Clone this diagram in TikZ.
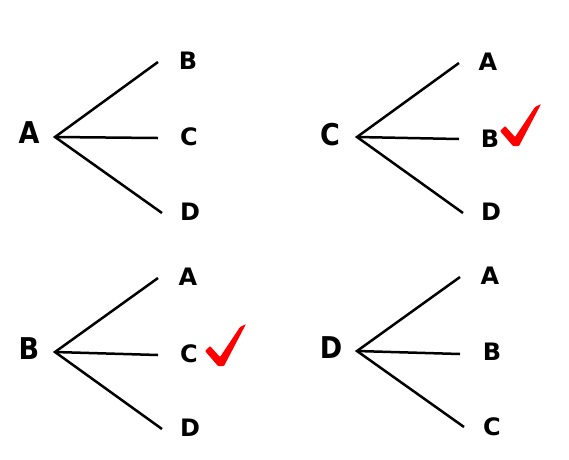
\documentclass[tikz,border=0pt]{standalone}
\usepackage{fontspec}
\setmainfont{DejaVu Sans}
\newfontfamily\rootfont{DejaVu Sans Condensed}
\begin{document}
\begin{tikzpicture}[x=1pt,y=-1pt,
  rootlbl/.style={inner sep=0pt, font=\rootfont\bfseries\fontsize{30}{30}\selectfont},
  leaflbl/.style={inner sep=0pt, font=\bfseries\fontsize{24}{24}\selectfont},
  branch/.style={line width=2.5pt, black},
  tickmark/.pic={\fill[red, rounded corners=0.8pt] (-16,-15) -- (-11,-20) -- (-1,-9) -- (19,-39) -- (25,-42) -- (3,0) -- (-3,0) -- cycle;}
]
\useasboundingbox (0,0) rectangle (569,459);

% Panel A
\node[rootlbl] (rA) at (29,133) {A};
\coordinate (fA) at (55,137);
\coordinate (eAB) at (158,62);
\coordinate (eAC) at (158,138);
\coordinate (eAD) at (162,213);
\node[leaflbl] (lAB) at (188,61) {B};
\node[leaflbl] (lAC) at (189,137) {C};
\node[leaflbl] (lAD) at (190,212) {D};
\draw[branch] (eAB) -- (fA) -- (eAD);
\draw[branch] (fA) -- (eAC);

% Panel C
\node[rootlbl] (rC) at (330,135) {C};
\coordinate (fC) at (357,137);
\coordinate (eCA) at (459,63);
\coordinate (eCB) at (459,139);
\coordinate (eCD) at (463,213);
\node[leaflbl] (lCA) at (488,62) {A};
\node[leaflbl] (lCB) at (490,139) {B};
\node[leaflbl] (lCD) at (491,212) {D};
\draw[branch] (eCA) -- (fC) -- (eCD);
\draw[branch] (fC) -- (eCB);
\pic (tC) at (516,146) {tickmark};

% Panel B
\node[rootlbl] (rB) at (29,349) {B};
\coordinate (fB) at (55,352);
\coordinate (eBA) at (158,278);
\coordinate (eBC) at (158,355);
\coordinate (eBD) at (162,429);
\node[leaflbl] (lBA) at (188,277) {A};
\node[leaflbl] (lBC) at (189,354) {C};
\node[leaflbl] (lBD) at (190,428) {D};
\draw[branch] (eBA) -- (fB) -- (eBD);
\draw[branch] (fB) -- (eBC);
\pic (tB) at (221,366) {tickmark};

% Panel D
\node[rootlbl] (rD) at (331,348) {D};
\coordinate (fD) at (357,351);
\coordinate (eDA) at (460,277);
\coordinate (eDB) at (460,354);
\coordinate (eDC) at (464,427);
\node[leaflbl] (lDA) at (490,276) {A};
\node[leaflbl] (lDB) at (492,352) {B};
\node[leaflbl] (lDC) at (492,427) {C};
\draw[branch] (eDA) -- (fD) -- (eDC);
\draw[branch] (fD) -- (eDB);
\end{tikzpicture}
\end{document}
